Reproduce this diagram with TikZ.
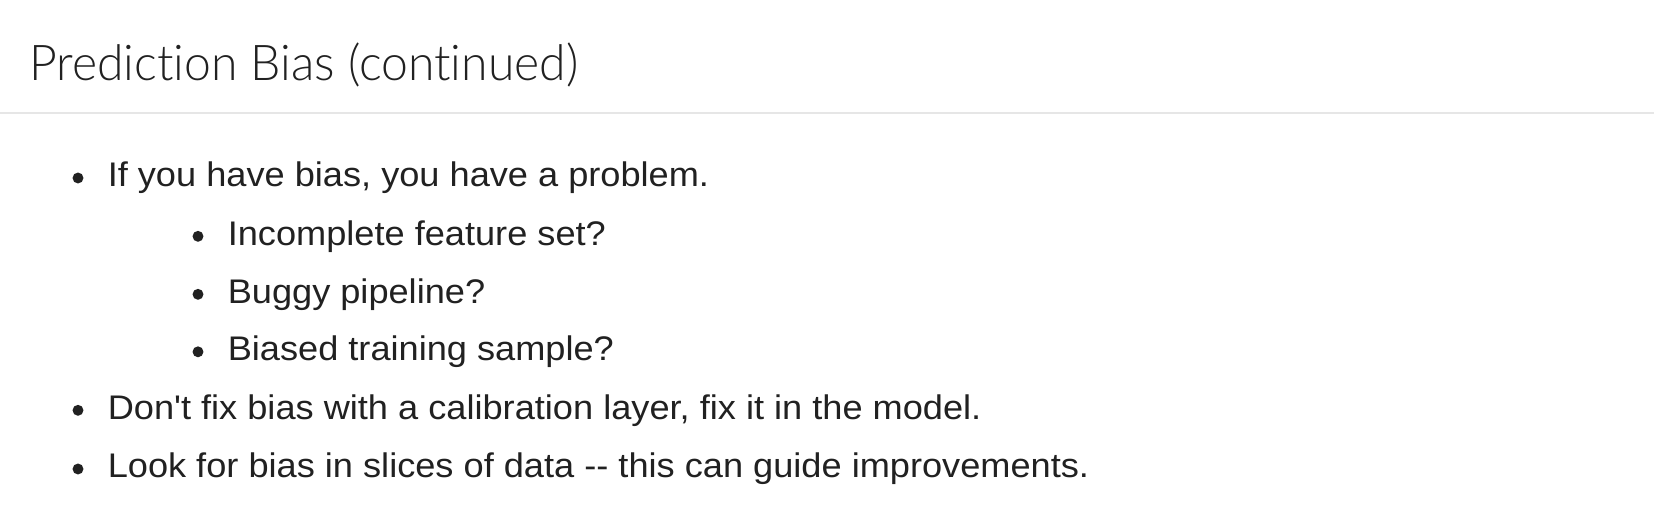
\documentclass[tikz,border=0pt]{standalone}
\usepackage{fontspec}
\setmainfont{Liberation Sans}[FakeStretch=1.06,Ligatures=TeXOff]
\newfontfamily\titlefont{Lato Light}[FakeStretch=0.975,Ligatures={NoCommon,NoDiscretionary,NoRare}]
\definecolor{txt}{HTML}{212121}
\definecolor{rule}{HTML}{E6E6E6}
\begin{document}
\begin{tikzpicture}[x=0.75pt,y=-0.75pt,
  body/.style={anchor=base west,inner sep=0pt,text=txt,font=\fontsize{25.6pt}{30pt}\selectfont},
  bul/.style={circle,fill=txt,inner sep=0pt,minimum size=8.2pt}]
\useasboundingbox[fill=white] (0,0) rectangle (1654,532);
\node[anchor=base west,inner sep=0pt,text=txt,font=\titlefont\fontsize{37pt}{46pt}\selectfont] (title) at (29,80.7) {Prediction Bias (continued)};
\draw[rule,line width=1.5pt] (0,112.5) -- (1654,112.5);
\node[bul] (b1) at (78,178) {};
\node[body] (t1) at (107.5,186.7) {If you have bias, you have a problem.};
\node[bul] (b2) at (198,236.3) {};
\node[body] (t2) at (227.5,245) {Incomplete feature set?};
\node[bul] (b3) at (198,294.3) {};
\node[body] (t3) at (227.5,303) {Buggy pipeline?};
\node[bul] (b4) at (198,351.8) {};
\node[body] (t4) at (227.5,360.5) {Biased training sample?};
\node[bul] (b5) at (78,410.3) {};
\node[body] (t5) at (107.5,419) {Don't fix bias with a calibration layer, fix it in the model.};
\node[bul] (b6) at (78,469) {};
\node[body] (t6) at (107.5,477.7) {Look for bias in slices of data --{} this can guide improvements.};
\end{tikzpicture}
\end{document}
